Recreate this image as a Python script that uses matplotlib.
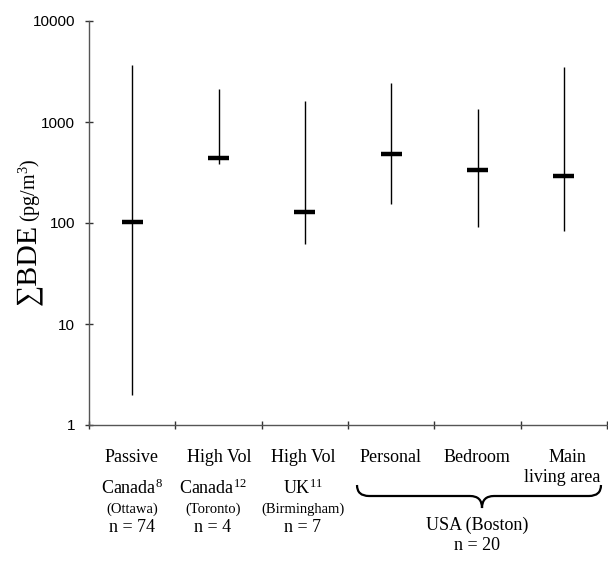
import matplotlib
matplotlib.use("Agg")
import matplotlib.pyplot as plt
from matplotlib.path import Path
from matplotlib.patches import PathPatch
import numpy as np

# ---- data ----
categories = ["Passive", "High Vol", "High Vol", "Personal", "Bedroom", "Main"]
category_line2 = ["", "", "", "", "", "living area"]
countries = [r"Canada$^{8}$", r"Canada$^{12}$", r"UK$^{11}$"]
cities = ["(Ottawa)", "(Toronto)", "(Birmingham)"]
n_labels = ["n = 74", "n = 4", "n = 7"]
usa_label = "USA (Boston)"
usa_n = "n = 20"
medians = [103, 443, 129, 486, 337, 294]
lows = [2.0, 382, 61.5, 153, 92, 84]
highs = [3660, 2120, 1615, 2430, 1345, 3500]
yticks = [1, 10, 100, 1000, 10000]

plt.rcParams['mathtext.fontset'] = 'custom'
plt.rcParams['mathtext.rm'] = 'Liberation Serif'
plt.rcParams['mathtext.it'] = 'Liberation Serif:italic'

W, H = 608, 567
fig = plt.figure(figsize=(W / 100, H / 100), dpi=100)
ax = fig.add_axes([89 / W, 1 - 425 / H, (607 - 89) / W, (425 - 21) / H])

x = np.arange(len(medians)) + 0.5
ax.vlines(x, lows, highs, color='black', lw=1.0)
ax.hlines(medians, x - 0.12, x + 0.12, color='black', lw=3.2)

ax.set_yscale('log')
ax.set_ylim(1, 10000)
ax.set_xlim(0, 6)
ax.set_yticks(yticks)
ax.set_yticklabels([str(v) for v in yticks], family='Liberation Sans', fontsize=11)
ax.yaxis.set_minor_locator(matplotlib.ticker.NullLocator())
ax.set_xticks(range(0, 7))
ax.set_xticklabels([])
for s in ['top', 'right']:
    ax.spines[s].set_visible(False)
for s in ['left', 'bottom']:
    ax.spines[s].set_color('#555555')
    ax.spines[s].set_linewidth(1.0)
ax.tick_params(axis='both', direction='inout', length=6, width=1.0, color='#333333')
ax.tick_params(axis='y', pad=7)


def fx(px):
    return px / W


def fy(py):
    return 1 - py / H


serif = ['Liberation Serif', 'DejaVu Serif']

# category labels
cat_x = [132, 219, 303, 391, 477, 567]
for i, c in enumerate(categories):
    fig.text(fx(cat_x[i]), fy(457), c, ha='center', va='center', fontsize=13, family=serif)
    if category_line2[i]:
        fig.text(fx(562), fy(478), category_line2[i], ha='center', va='center',
                 fontsize=13, family=serif)

sub_x = [132, 213, 303]
for i in range(3):
    fig.text(fx(sub_x[i]), fy(488), countries[i], ha='center', va='center', fontsize=13, family=serif)
    fig.text(fx(sub_x[i]), fy(509), cities[i], ha='center', va='center', fontsize=10.5, family=serif)
    fig.text(fx(sub_x[i]), fy(528), n_labels[i], ha='center', va='center', fontsize=13, family=serif)

fig.text(fx(477), fy(525), usa_label, ha='center', va='center', fontsize=13, family=serif)
fig.text(fx(477), fy(545), usa_n, ha='center', va='center', fontsize=13, family=serif)

# brace
x0, x1, xm = 357, 601, 482
yt, ymid, ytip = 485, 496, 508
verts = [(x0, yt), (x0, ymid), (x0 + 12, ymid),
         (xm - 12, ymid), (xm, ymid), (xm, ytip),
         (xm, ymid), (xm + 12, ymid),
         (x1 - 12, ymid), (x1, ymid), (x1, yt)]
codes = [Path.MOVETO, Path.CURVE3, Path.CURVE3,
         Path.LINETO, Path.CURVE3, Path.CURVE3,
         Path.CURVE3, Path.CURVE3,
         Path.LINETO, Path.CURVE3, Path.CURVE3]
verts_f = [(fx(a), fy(b)) for a, b in verts]
fig.add_artist(PathPatch(Path(verts_f, codes), transform=fig.transFigure,
                         facecolor='none', edgecolor='black', lw=1.6))

# y label
fig.text(fx(35), fy(224), "\u2211BDE", rotation=90, rotation_mode='anchor',
         ha='right', va='baseline', fontsize=21.5, family=serif)
fig.text(fx(36), fy(222), "(pg/m$^{3}$)", rotation=90, rotation_mode='anchor',
         ha='left', va='baseline', fontsize=14.5, family=serif)

fig.savefig("out.png", dpi=100)
